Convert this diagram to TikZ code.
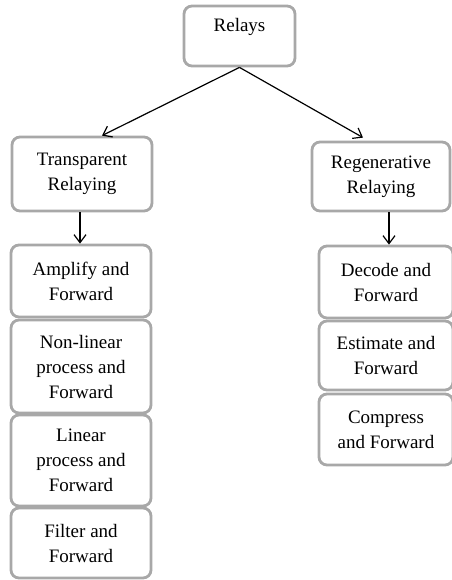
\documentclass[tikz,border=0pt]{standalone}
\usepackage{fontspec}
\setmainfont{Liberation Serif}
\usetikzlibrary{arrows.meta,calc}
\definecolor{boxgray}{HTML}{A8A8A8}
\tikzset{
  box/.style={draw=boxgray, line width=2.8pt, rounded corners=8pt, fill=white,
    align=center, inner sep=0pt, font=\fontsize{19}{25}\selectfont},
  arr/.style={line width=1.2pt, -{Straight Barb[length=8pt,width=12pt]}},
}
\begin{document}
\begin{tikzpicture}[x=1pt, y=-1pt]
\useasboundingbox (0,0) rectangle (451,580);
% root
\node[box, minimum width=111pt, minimum height=60pt] (relays) at (239.5,36) {};
\node[font=\fontsize{19}{25}\selectfont, inner sep=0pt] (relaystext) at (239.5,27) {Relays};
% second level
\node[box, minimum width=140pt, minimum height=74pt] (trans) at (82,174) {Transparent\\Relaying};
\node[box, minimum width=138pt, minimum height=69pt] (regen) at (381,176.5) {Regenerative\\Relaying};
% left column
\node[box, minimum width=140pt, minimum height=72pt] (amp) at (81,281) {Amplify and\\Forward};
\node[box, minimum width=140pt, minimum height=93pt] (nonlin) at (81,366.5) {Non-linear\\process and\\Forward};
\node[box, minimum width=140pt, minimum height=91pt] (lin) at (81,460.5) {Linear\\process and\\Forward};
\node[box, minimum width=140pt, minimum height=70pt] (filt) at (81,543) {Filter and\\Forward};
% right column
\node[box, minimum width=134pt, minimum height=72pt] (dec) at (386,282) {Decode and\\Forward};
\node[box, minimum width=134pt, minimum height=69pt] (est) at (386,355.5) {Estimate and\\Forward};
\node[box, minimum width=134pt, minimum height=71pt] (comp) at (386,429.5) {Compress\\and Forward};
% connectors
\draw[arr] (relays.south) -- ($(trans.north)+(20,0)$);
\draw[arr] (relays.south) -- ($(regen.north)+(-18,-3)$);
\draw[arr] ($(trans.south)+(-2,0)$) -- ($(amp.north)+(-1,0)$);
\draw[arr] ($(regen.south)+(8,0)$) -- ($(dec.north)+(3,0)$);
\end{tikzpicture}
\end{document}
